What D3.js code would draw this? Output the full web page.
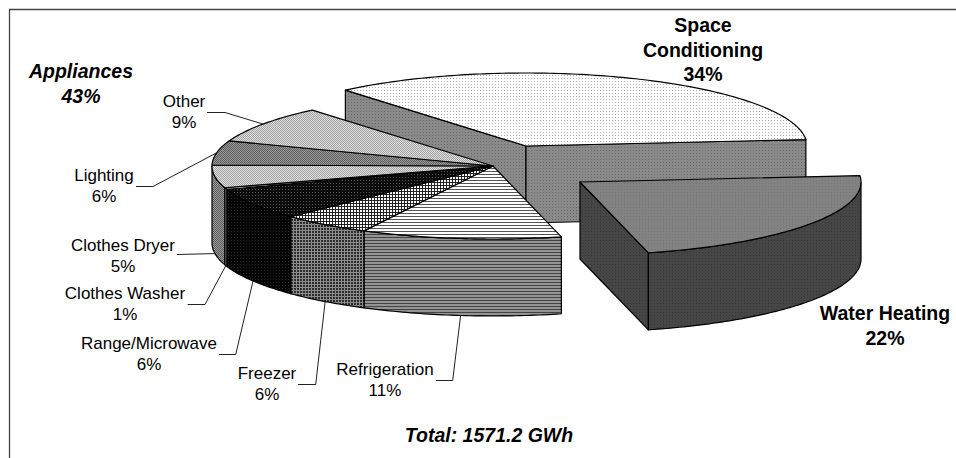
<!DOCTYPE html>
<html>
<head>
<meta charset="utf-8">
<script src="https://cdn.jsdelivr.net/npm/d3@7"></script>
<style>
html, body { margin: 0; padding: 0; background: #fff; }
svg { display: block; }
text { font-family: "Liberation Sans", Arial, sans-serif; fill: #000; text-anchor: middle; }
</style>
</head>
<body>
<svg id="chart" width="956" height="458"></svg>
<script>
// slices, clockwise from the Space Conditioning wedge
var names = ["Space Conditioning", "Water Heating", "Refrigeration", "Freezer", "Range/Microwave",
	"Clothes Washer", "Clothes Dryer", "Lighting", "Other"];
var percentLabels = ["34%", "22%", "11%", "6%", "6%", "1%", "5%", "6%", "9%"];
var shares = [34.7, 22.5, 11.5, 5.2, 7.0, 0.4, 5.0, 5.4, 8.3];
var groups = ["space", "water", "main", "main", "main", "main", "main", "main", "main"];
var groupTitle = ["Appliances", "43%"];
var totalLabel = "Total: 1571.2 GWh";

var width = 956, height = 458,
rx = 281, ry = 73, depth = 77,
firstAngle = 320 * Math.PI / 180;

var hubs = {space: [526, 146], water: [580, 182], main: [493, 166]};

var svg = d3.select("#chart");

// fill patterns: [id, period, background, [x, y, w, h, colour]...]
var patterns = [
	["spaceTop", 3, "#fff", [[0, 0, 1, 1, "#b0b0b0"]]],
	["spaceSide", 3, "#8a8a8a", [[0, 0, 1, 1, "#666"]]],
	["waterTop", 3, "#828282", [[0, 0, 1, 1, "#767676"]]],
	["waterSide", 3, "#464646", [[0, 0, 1, 1, "#383838"]]],
	["refrigTop", 3, "#fff", [[0, 0, 3, 1, "#555"]]],
	["refrigSide", 3, "#949494", [[0, 0, 3, 1, "#444"]]],
	["freezerTop", 3, "#222", [[0, 0, 2, 2, "#fff"]]],
	["freezerSide", 3, "#8c8c8c", [[0, 0, 2, 2, "#2c2c2c"]]],
	["rangeTop", 3, "#0c0c0c", [[0, 0, 1, 1, "#555"]]],
	["rangeSide", 3, "#050505", [[0, 0, 1, 1, "#2a2a2a"]]],
	["washerTop", 2, "#e8e8e8", [[0, 0, 2, 1, "#888"]]],
	["washerSide", 2, "#999", [[0, 0, 1, 2, "#555"]]],
	["dryerTop", 2, "#dedede", [[0, 0, 1, 1, "#a4a4a4"], [1, 1, 1, 1, "#a4a4a4"]]],
	["dryerSide", 2, "#9a9a9a", [[0, 0, 1, 1, "#5c5c5c"], [1, 1, 1, 1, "#5c5c5c"]]],
	["lightingTop", 2, "#9a9a9a", [[0, 0, 1, 1, "#5e5e5e"], [1, 1, 1, 1, "#5e5e5e"]]],
	["otherTop", 2, "#e0e0e0", [[0, 0, 1, 1, "#a0a0a0"], [1, 1, 1, 1, "#a0a0a0"]]]
];
var topFills = ["spaceTop", "waterTop", "refrigTop", "freezerTop", "rangeTop", "washerTop", "dryerTop", "lightingTop", "otherTop"];
var sideFills = ["spaceSide", "waterSide", "refrigSide", "freezerSide", "rangeSide", "washerSide", "dryerSide", "dryerSide", "otherTop"];

var defs = svg.append("defs");
patterns.forEach(function(p) {
	var pat = defs.append("pattern")
	.attr("id", p[0])
	.attr("patternUnits", "userSpaceOnUse")
	.attr("width", p[1])
	.attr("height", p[1]);
	pat.append("rect").attr("width", p[1]).attr("height", p[1]).attr("fill", p[2]);
	p[3].forEach(function(r) {
		pat.append("rect").attr("x", r[0]).attr("y", r[1]).attr("width", r[2]).attr("height", r[3]).attr("fill", r[4]);
	});
});

// frame (only top and left show in the crop)
svg.append("path")
.attr("d", "M9.5," + height + "V9.5H" + width)
.attr("fill", "none")
.attr("stroke", "#444")
.attr("stroke-width", 1.3);

var pie = d3.pie().sort(null).startAngle(firstAngle).endAngle(firstAngle + 2 * Math.PI);
var slices = pie(shares);
slices.forEach(function(d, i) {
	d.group = groups[i];
	d.hub = hubs[groups[i]];
	d.top = topFills[i];
	d.side = sideFills[i];
});

// angle (clockwise from 12 o'clock) to page position
function rimPoint(hub, a, dy) {
	return [hub[0] + rx * Math.sin(a), hub[1] - ry * Math.cos(a) + (dy || 0)];
}
function arcPoints(hub, a0, a1, dy) {
	var n = Math.max(2, Math.ceil(Math.abs(a1 - a0) * 60));
	return d3.range(n + 1).map(function(k) {
		return rimPoint(hub, a0 + (a1 - a0) * k / n, dy);
	});
}
var line = d3.line();

function drawTop(g, d) {
	g.append("path")
	.attr("d", line([d.hub].concat(arcPoints(d.hub, d.startAngle, d.endAngle))) + "Z")
	.attr("fill", "url(#" + d.top + ")")
	.attr("stroke", "#000")
	.attr("stroke-width", 1.2)
	.attr("stroke-linejoin", "round");
}

// outer side, only the part on the front half of the ellipse shows
function drawSide(g, d) {
	var lo = Math.PI / 2, hi = 3 * Math.PI / 2, a0 = d.startAngle, a1 = d.endAngle;
	[0, 2 * Math.PI].forEach(function(shift) {
		var s = Math.max(a0 - shift, lo), e = Math.min(a1 - shift, hi);
		if ( e <= s ) return;
		var upper = arcPoints(d.hub, s, e), lower = arcPoints(d.hub, s, e, depth).reverse();
		g.append("path")
		.attr("d", line(upper.concat(lower)) + "Z")
		.attr("fill", "url(#" + d.side + ")")
		.attr("stroke", "#000")
		.attr("stroke-width", 1.2);
	});
}

// cut wall from the hub out to the rim
function drawWall(g, hub, a, fill) {
	var p = rimPoint(hub, a);
	g.append("path")
	.attr("d", line([hub, p, [p[0], p[1] + depth], [hub[0], hub[1] + depth]]) + "Z")
	.attr("fill", "url(#" + fill + ")")
	.attr("stroke", "#000")
	.attr("stroke-width", 1.2)
	.attr("stroke-linejoin", "round");
}

var pieG = svg.append("g");

// Back wedge first, then the appliances, the water heating wedge last
var space = slices[0], water = slices[1];
drawWall(pieG, space.hub, space.startAngle, space.side);
drawWall(pieG, space.hub, space.endAngle, space.side);
drawTop(pieG, space);

var appliances = slices.filter(function(d) { return d.group === "main"; });
appliances.forEach(function(d) { drawSide(pieG, d); });
appliances.forEach(function(d) { drawTop(pieG, d); });

drawWall(pieG, water.hub, water.endAngle, water.side);
drawSide(pieG, water);
drawTop(pieG, water);

// Leaders: text end and elbow, the last point sits on the slice rim
var leaders = [
	null, null,
	[436, 452.7, 380.5],
	[298, 315.7, 384.5],
	[219, 235.7, 354.5],
	[187.7, 205, 304.5],
	[177, 177, 254.5],
	[136, 153, 186.5],
	[207, 225, 112.5]
];
slices.forEach(function(d, i) {
	if ( !leaders[i] ) return;
	var mid = (d.startAngle + d.endAngle) / 2;
	var front = Math.cos(mid) < 0;
	var end = rimPoint(d.hub, mid, front ? depth : 0);
	svg.append("path")
	.attr("d", line([[leaders[i][0], leaders[i][2]], [leaders[i][1], leaders[i][2]], end]))
	.attr("fill", "none")
	.attr("stroke", "#222")
	.attr("stroke-width", 1);
});

// Label text: centre x, first baseline
var labelPos = [
	[703, 32], [885, 320], [385, 375], [267, 379], [149, 349],
	[125, 299], [123, 251], [104, 181], [184, 107]
];
var labelLines = [
	["Space", "Conditioning", percentLabels[0]],
	[names[1], percentLabels[1]]
];
slices.forEach(function(d, i) {
	var bold = i < 2;
	var rows = bold ? labelLines[i] : [names[i], percentLabels[i]];
	var t = svg.append("text")
	.attr("font-size", bold ? 19.5 : 17)
	.attr("font-weight", bold ? "bold" : "normal");
	rows.forEach(function(row, k) {
		t.append("tspan")
		.attr("x", labelPos[i][0])
		.attr("y", labelPos[i][1] + k * (bold ? 24.5 : 21))
		.text(row);
	});
});

var title = svg.append("text")
.attr("font-size", 19.5)
.attr("font-weight", "bold")
.attr("font-style", "italic");
groupTitle.forEach(function(row, k) {
	title.append("tspan").attr("x", 81).attr("y", 78 + k * 25).text(row);
});

svg.append("text")
.attr("x", 489)
.attr("y", 442)
.attr("font-size", 19.5)
.attr("font-weight", "bold")
.attr("font-style", "italic")
.text(totalLabel);
</script>
</body>
</html>
